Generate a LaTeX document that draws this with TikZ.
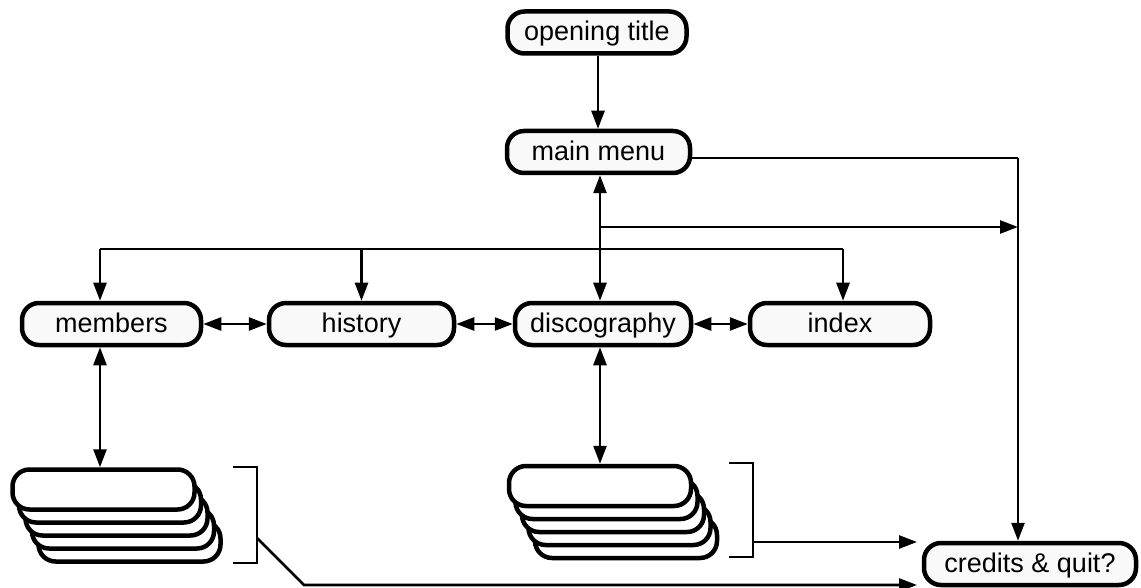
\documentclass[tikz,border=0pt]{standalone}
\usepackage{fontspec}
\setmainfont{Liberation Sans}
\usetikzlibrary{arrows.meta}
\begin{document}
\begin{tikzpicture}[x=1pt,y=-1pt,
  box/.style={draw, line width=4.5pt, rounded corners=17pt, fill=gray!5, minimum height=42pt, inner sep=0pt, text height=21pt, text depth=4pt, font=\fontsize{27}{31}\selectfont},
  card/.style={draw, line width=4.5pt, rounded corners=17pt, fill=white, minimum width=182pt, minimum height=40pt, inner sep=0pt},
  conn/.style={line width=2.6pt, -{Triangle[length=18pt,width=13pt]}},
  dconn/.style={line width=2.6pt, {Triangle[length=18pt,width=13pt]}-{Triangle[length=18pt,width=13pt]}},
  plain/.style={line width=2.6pt}]
\useasboundingbox (0,0) rectangle (1141,588);
% main boxes
\node[box, minimum width=179pt] (title) at (597,32.5) {opening title};
\node[box, minimum width=183pt] (menu) at (598.5,152) {main menu};
\node[box, minimum width=179pt] (members) at (111.5,324) {members};
\node[box, minimum width=185pt] (history) at (361.5,324) {history};
\node[box, minimum width=176pt] (disco) at (603,324) {discography};
\node[box, minimum width=180pt] (index) at (840,324) {index};
\node[box, minimum width=212pt] (credits) at (1030,564) {credits \& quit?};
% stacks
\foreach \k in {4,3,2,1,0}{
  \node[card] (ls\k) at ({103.5+6.5*\k},{489.5+13*\k}) {};
}
\foreach \k in {4,3,2,1,0}{
  \node[card] (rs\k) at ({600+6.5*\k},{486+13*\k}) {};
}
% coordinates
\coordinate (tv) at (598,0);
\coordinate (rv) at (1018,158);
\coordinate (sp) at (600,227);
\coordinate (sq) at (1018,227);
\coordinate (bl) at (100,249);
\coordinate (br) at (843,249);
\coordinate (lbt) at (233,467);
\coordinate (lbb) at (233,563);
\coordinate (lbm) at (257,538);
\coordinate (ldg) at (304,585);
\coordinate (lend) at (917,585);
\coordinate (rbt) at (729,463);
\coordinate (rbb) at (729,557);
\coordinate (rbm) at (753,542);
\coordinate (rend) at (917,542);
% connectors
\draw[conn] (title.south -| tv) -- (menu.north -| tv);
\draw[plain] (menu.east |- rv) -- (rv);
\draw[conn] (rv) -- (rv |- credits.north);
\draw[dconn] (menu.south -| sp) -- (disco.north -| sp);
\draw[conn] (sp) -- (sq);
\draw[plain] (bl) -- (br);
\draw[conn] (bl) -- (members.north -| bl);
\draw[conn] (history.north |- bl) -- (history.north);
\draw[conn] (br) -- (index.north -| br);
\draw[dconn] (members) -- (history);
\draw[dconn] (history) -- (disco);
\draw[dconn] (disco) -- (index);
\draw[dconn] (members.south -| bl) -- (ls0.north -| bl);
\draw[dconn] (disco.south -| sp) -- (rs0.north -| sp);
% brackets
\draw[plain] (lbt) -- (lbt -| lbm) -- (lbb -| lbm) -- (lbb);
\draw[plain] (rbt) -- (rbt -| rbm) -- (rbb -| rbm) -- (rbb);
\draw[conn] (lbm) -- (ldg) -- (lend);
\draw[conn] (rbm) -- (rend);
\end{tikzpicture}
\end{document}
